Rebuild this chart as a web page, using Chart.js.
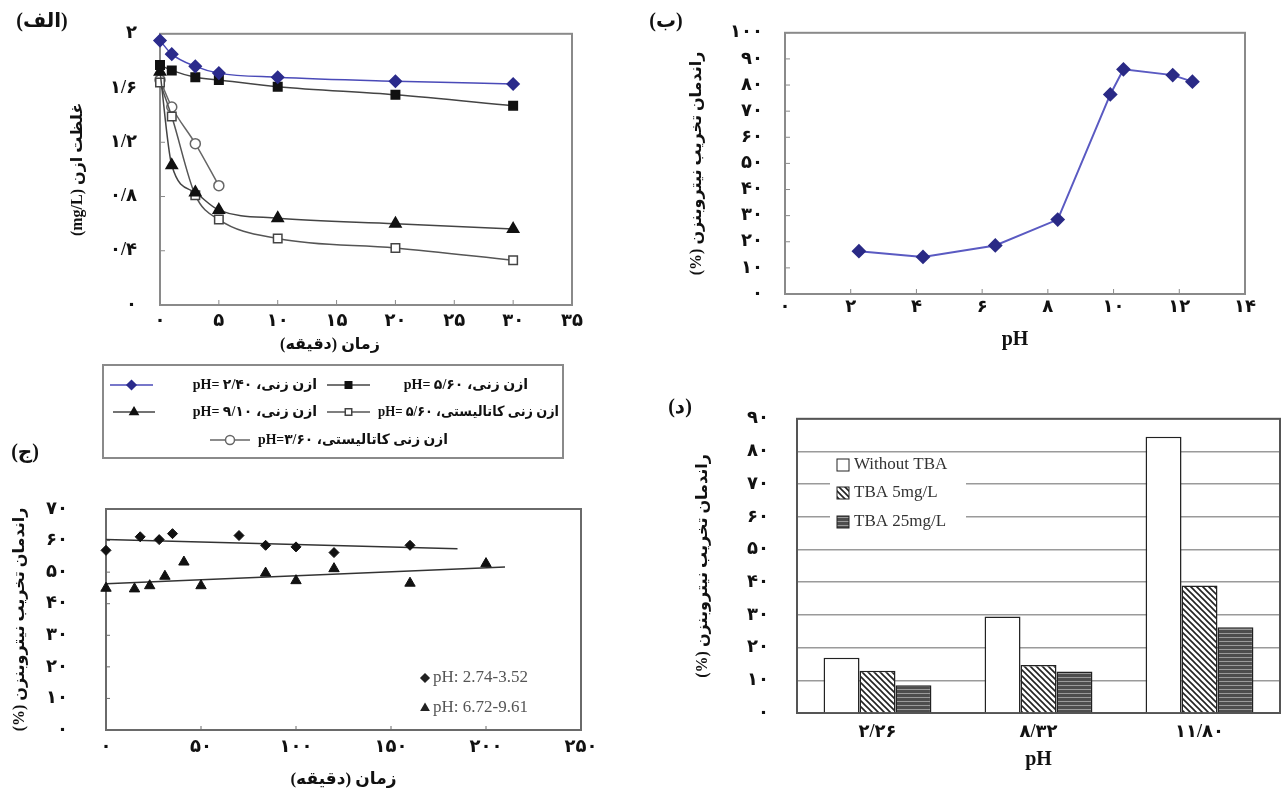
<!DOCTYPE html>
<html>
<head>
<meta charset="utf-8">
<script src="https://cdn.jsdelivr.net/npm/chart.js@4.4.0/dist/chart.umd.min.js"></script>
<style>
  body { margin: 0; background: #fff; width: 1282px; height: 794px; position: relative; overflow: hidden; }
  canvas { position: absolute; }
</style>
</head>
<body>
<canvas id="chartA" dir="rtl" width="610" height="460" style="left:0;top:0"></canvas>
<canvas id="chartB" dir="rtl" width="652" height="360" style="left:630px;top:0"></canvas>
<canvas id="chartC" dir="rtl" width="610" height="354" style="left:0;top:440px"></canvas>
<canvas id="chartD" dir="rtl" width="652" height="414" style="left:630px;top:380px"></canvas>
<script>
// (الف) ozone concentration over time
var timeA = [0, 1, 3, 5, 10, 20, 30];
var ozonePH240 = [1.95, 1.85, 1.76, 1.71, 1.68, 1.65, 1.63];
var ozonePH560 = [1.77, 1.73, 1.68, 1.66, 1.61, 1.55, 1.47];
var ozonePH910 = [1.72, 1.03, 0.83, 0.70, 0.64, 0.60, 0.56];
var catalyticPH560 = [1.64, 1.39, 0.81, 0.63, 0.49, 0.42, 0.33];
var catalyticPH360 = [1.66, 1.46, 1.19, 0.88];

// (ب) removal vs pH
var phB = [2.25, 4.2, 6.4, 8.3, 9.9, 10.3, 11.8, 12.4];
var removalB = [16.4, 14.2, 18.6, 28.5, 76.4, 86, 83.8, 81.3];

// (ج) removal over time, two pH ranges
var timeAcid = [0, 18, 28, 35, 70, 84, 100, 120, 160];
var removalAcid = [56.9, 61.2, 60.3, 62.2, 61.6, 58.5, 58.0, 56.2, 58.5];
var timeBasic = [0, 15, 23, 31, 41, 50, 84, 100, 120, 160, 200];
var removalBasic = [44.9, 44.7, 45.7, 48.7, 53.2, 45.7, 49.7, 47.3, 51.1, 46.5, 52.7];
var trendAcidX = [0, 185];
var trendAcidY = [60.3, 57.4];
var trendBasicX = [0, 210];
var trendBasicY = [46.3, 51.6];

// (د) removal with TBA scavenger
var phD = ['۲/۲۶', '۸/۳۲', '۱۱/۸۰'];
var withoutTBA = [16.9, 29.5, 84.5];
var tba5 = [12.9, 14.7, 39.0];
var tba25 = [8.5, 12.7, 26.2];

var FONT = "'Liberation Serif', 'DejaVu Sans', serif";
var TEXT = '#111';

// western digits -> persian digits, decimal point -> slash
function fa(v) {
  var s = String(Math.round(v * 100) / 100).replace('.', '/');
  return s.replace(/[0-9]/g, function (d) { return '۰۱۲۳۴۵۶۷۸۹'[d]; });
}

function points(xs, ys) {
  return ys.map(function (y, i) { return { x: xs[i], y: y }; });
}

function tickFont(size) {
  return { family: FONT, weight: 'bold', size: size || 18 };
}

function drawMarker(ctx, style, x, y, r, fill, stroke) {
  ctx.save();
  ctx.fillStyle = fill;
  ctx.strokeStyle = stroke;
  ctx.lineWidth = 1.5;
  ctx.beginPath();
  if (style === 'rectRot') {
    ctx.moveTo(x, y - r); ctx.lineTo(x + r, y); ctx.lineTo(x, y + r); ctx.lineTo(x - r, y); ctx.closePath();
  } else if (style === 'rect') {
    ctx.rect(x - r * 0.72, y - r * 0.72, r * 1.44, r * 1.44);
  } else if (style === 'triangle') {
    ctx.moveTo(x, y - r); ctx.lineTo(x + r * 0.9, y + r * 0.55); ctx.lineTo(x - r * 0.9, y + r * 0.55); ctx.closePath();
  } else {
    ctx.arc(x, y, r, 0, Math.PI * 2);
  }
  ctx.fill();
  ctx.stroke();
  ctx.restore();
}

// box round the plot plus little inward ticks
function framePlugin(color, lineWidth, tickLen) {
  return {
    id: 'frame',
    beforeDatasetsDraw: function (chart) {
      var ctx = chart.ctx, a = chart.chartArea;
      ctx.save();
      ctx.strokeStyle = color;
      ctx.lineWidth = lineWidth;
      ctx.strokeRect(a.left, a.top, a.right - a.left, a.bottom - a.top);
      if (tickLen) {
        ctx.lineWidth = 1;
        ctx.beginPath();
        var sx = chart.scales.x, sy = chart.scales.y;
        sx.ticks.forEach(function (t) {
          var px = sx.getPixelForValue(t.value);
          ctx.moveTo(px, a.bottom); ctx.lineTo(px, a.bottom - tickLen);
        });
        sy.ticks.forEach(function (t) {
          var py = sy.getPixelForValue(t.value);
          ctx.moveTo(a.left, py); ctx.lineTo(a.left + tickLen, py);
        });
        ctx.stroke();
      }
      ctx.restore();
    }
  };
}

// free standing labels (panel letters etc)
function textPlugin(items) {
  return {
    id: 'notes',
    afterDraw: function (chart) {
      var ctx = chart.ctx;
      items.forEach(function (it) {
        ctx.save();
        ctx.direction = 'rtl';
        ctx.font = it.font;
        ctx.fillStyle = it.color || TEXT;
        ctx.textAlign = it.align || 'center';
        ctx.textBaseline = 'middle';
        ctx.fillText(it.text, it.x, it.y);
        ctx.restore();
      });
    }
  };
}

// legend box under chart (الف)
var legendA = {
  id: 'legendA',
  afterDraw: function (chart) {
    var ctx = chart.ctx;
    ctx.save();
    ctx.strokeStyle = '#8a8a8a';
    ctx.lineWidth = 2;
    ctx.strokeRect(103, 365, 460, 93);
    var rows = [
      { ds: 0, x1: 110, x2: 153, y: 385, tx: 317, w: 150 },
      { ds: 1, x1: 327, x2: 370, y: 385, tx: 528, w: 150 },
      { ds: 2, x1: 113, x2: 155, y: 412, tx: 317, w: 150 },
      { ds: 3, x1: 327, x2: 370, y: 412, tx: 559, w: 181 },
      { ds: 4, x1: 210, x2: 250, y: 440, tx: 448, w: 190 }
    ];
    rows.forEach(function (r) {
      var d = chart.data.datasets[r.ds];
      ctx.strokeStyle = d.borderColor;
      ctx.lineWidth = 1.5;
      ctx.beginPath();
      ctx.moveTo(r.x1, r.y); ctx.lineTo(r.x2, r.y);
      ctx.stroke();
      drawMarker(ctx, d.pointStyle, (r.x1 + r.x2) / 2, r.y, 4.5, d.pointBackgroundColor, d.pointBorderColor);
      ctx.fillStyle = TEXT;
      ctx.font = 'bold 14px ' + FONT;
      ctx.direction = 'rtl';
      ctx.textAlign = 'right';
      ctx.textBaseline = 'middle';
      ctx.fillText(d.label, r.tx, r.y, r.w);
    });
    ctx.restore();
  }
};

// legend inside plot (ج)
var legendC = {
  id: 'legendC',
  afterDraw: function (chart) {
    var ctx = chart.ctx;
    var rows = [{ ds: 0, y: 238 }, { ds: 1, y: 268 }];
    rows.forEach(function (r) {
      var d = chart.data.datasets[r.ds];
      drawMarker(ctx, d.pointStyle, 425, r.y, 4, '#222', '#222');
      ctx.save();
      ctx.fillStyle = '#555';
      ctx.font = '17px ' + FONT;
      ctx.direction = 'ltr';
      ctx.textAlign = 'left';
      ctx.textBaseline = 'middle';
      ctx.fillText(d.label, 433, r.y);
      ctx.restore();
    });
  }
};

// legend inside plot (د)
var legendD = {
  id: 'legendD',
  afterDatasetsDraw: function (chart) {
    var ctx = chart.ctx;
    ctx.save();
    ctx.fillStyle = '#fff';
    ctx.fillRect(200, 73, 136, 82);
    var rows = [{ ds: 0, y: 85 }, { ds: 1, y: 113 }, { ds: 2, y: 142 }];
    rows.forEach(function (r) {
      var d = chart.data.datasets[r.ds];
      ctx.fillStyle = d.backgroundColor;
      ctx.fillRect(207, r.y - 6, 12, 12);
      ctx.strokeStyle = '#222';
      ctx.lineWidth = 1;
      ctx.strokeRect(207, r.y - 6, 12, 12);
      ctx.fillStyle = '#333';
      ctx.font = '17px ' + FONT;
      ctx.direction = 'ltr';
      ctx.textAlign = 'left';
      ctx.textBaseline = 'middle';
      ctx.fillText(d.label, 224, r.y);
    });
    ctx.restore();
  }
};

function makePattern(kind) {
  var tile = document.createElement('canvas');
  var c = tile.getContext('2d');
  if (kind === 'diag') {
    tile.width = 6; tile.height = 6;
    c.fillStyle = '#fff'; c.fillRect(0, 0, 6, 6);
    c.strokeStyle = '#222'; c.lineWidth = 1.6;
    c.beginPath();
    c.moveTo(-1, -1); c.lineTo(7, 7);
    c.moveTo(-1, 5); c.lineTo(1, 7);
    c.moveTo(5, -1); c.lineTo(7, 1);
    c.stroke();
  } else {
    tile.width = 4; tile.height = 4;
    c.fillStyle = '#4d4d4d'; c.fillRect(0, 0, 4, 4);
    c.fillStyle = '#9a9a9a'; c.fillRect(0, 1, 4, 1);
  }
  return document.createElement('canvas').getContext('2d').createPattern(tile, 'repeat');
}

function lineSeries(label, xs, ys, style, radius, fill, stroke, line) {
  return {
    label: label,
    data: points(xs, ys),
    pointStyle: style,
    pointRadius: radius,
    pointBackgroundColor: fill,
    pointBorderColor: stroke,
    pointBorderWidth: 1.5,
    borderColor: line,
    borderWidth: 1.5,
    cubicInterpolationMode: 'monotone',
    clip: false
  };
}

function linearScale(min, max, step, padding, fit, horizontal) {
  return {
    type: 'linear',
    min: min,
    max: max,
    ticks: { stepSize: step, padding: padding, font: tickFont(), color: TEXT, callback: function (v) { return fa(v); } },
    grid: { display: false, drawTicks: false },
    border: { display: false },
    afterFit: function (s) { if (horizontal) s.height = fit; else s.width = fit; }
  };
}

function axisTitle(text, size, pad, vertical) {
  return {
    display: true,
    text: text,
    color: TEXT,
    font: { family: FONT, weight: 'bold', size: size },
    padding: vertical ? { top: pad, bottom: 0 } : { top: 0, bottom: pad }
  };
}

var baseOptions = function () {
  return {
    responsive: false,
    animation: false,
    plugins: { legend: { display: false }, tooltip: { enabled: false } }
  };
};

// ---------- (الف)
var optA = baseOptions();
optA.layout = { padding: { top: 22, right: 38, bottom: 105, left: 0 } };
optA.scales = {
  x: linearScale(0, 35, 5, 6, 50, true),
  y: linearScale(0, 2, 0.4, 23, 160, false)
};
optA.scales.y.title = axisTitle('غلظت ازن (mg/L)', 16, 68, true);

new Chart(document.getElementById('chartA'), {
  type: 'line',
  data: {
    datasets: [
      lineSeries('ازن زنی، pH= ۲/۴۰', timeA, ozonePH240, 'rectRot', 6, '#2b2b8c', '#2b2b8c', '#4a4ab8'),
      lineSeries('ازن زنی، pH= ۵/۶۰', timeA, ozonePH560, 'rect', 6, '#111', '#111', '#444'),
      lineSeries('ازن زنی، pH= ۹/۱۰', timeA, ozonePH910, 'triangle', 6.5, '#111', '#111', '#444'),
      lineSeries('ازن زنی کاتالیستی، pH= ۵/۶۰', timeA, catalyticPH560, 'rect', 6, '#fff', '#444', '#555'),
      lineSeries('ازن زنی کاتالیستی، pH=۳/۶۰', timeA, catalyticPH360, 'circle', 5, '#fff', '#666', '#666')
    ]
  },
  options: optA,
  plugins: [
    framePlugin('#8a8a8a', 2, 5),
    textPlugin([
      { text: '(الف)', x: 42, y: 22, font: 'bold 20px ' + FONT },
      { text: 'زمان (دقیقه)', x: 330, y: 345, font: 'bold 16px ' + FONT }
    ]),
    legendA
  ]
});

// ---------- (ب)
var optB = baseOptions();
optB.layout = { padding: { top: 32, right: 37, bottom: 0, left: 0 } };
optB.scales = {
  x: linearScale(0, 14, 2, 3, 66, true),
  y: linearScale(0, 100, 10, 22, 155, false)
};
optB.scales.x.title = axisTitle('pH', 20, 8, false);
optB.scales.y.title = axisTitle('راندمان تخریب نیتروبنزن (%)', 16, 57, true);

new Chart(document.getElementById('chartB'), {
  type: 'line',
  data: {
    datasets: [{
      label: 'removal',
      data: points(phB, removalB),
      pointStyle: 'rectRot',
      pointRadius: 6,
      pointBackgroundColor: '#2a2a86',
      pointBorderColor: '#2a2a86',
      borderColor: '#5a5ac2',
      borderWidth: 2,
      clip: false
    }]
  },
  options: optB,
  plugins: [
    framePlugin('#8a8a8a', 2, 5),
    textPlugin([{ text: '(ب)', x: 36, y: 22, font: 'bold 20px ' + FONT }])
  ]
});

// ---------- (ج)
var optC = baseOptions();
optC.layout = { padding: { top: 69, right: 29, bottom: 0, left: 0 } };
optC.scales = {
  x: linearScale(0, 250, 50, 7, 64, true),
  y: linearScale(0, 70, 10, 38, 106, false)
};
optC.scales.x.title = axisTitle('زمان (دقیقه)', 17, 4, false);
optC.scales.y.title = axisTitle('راندمان تخریب نیتروبنزن (%)', 16, 10, true);

new Chart(document.getElementById('chartC'), {
  type: 'scatter',
  data: {
    datasets: [
      { label: 'pH: 2.74-3.52', data: points(timeAcid, removalAcid), pointStyle: 'rectRot', pointRadius: 5,
        pointBackgroundColor: '#111', pointBorderColor: '#111', clip: false },
      { label: 'pH: 6.72-9.61', data: points(timeBasic, removalBasic), pointStyle: 'triangle', pointRadius: 6,
        pointBackgroundColor: '#111', pointBorderColor: '#111', clip: false },
      { label: 'trend acid', data: points(trendAcidX, trendAcidY), showLine: true, pointRadius: 0,
        borderColor: '#333', borderWidth: 1.5 },
      { label: 'trend basic', data: points(trendBasicX, trendBasicY), showLine: true, pointRadius: 0,
        borderColor: '#333', borderWidth: 1.5 }
    ]
  },
  options: optC,
  plugins: [
    framePlugin('#6a6a6a', 2, 4),
    textPlugin([{ text: '(ج)', x: 25, y: 13, font: 'bold 20px ' + FONT }]),
    legendC
  ]
});

// ---------- (د)
var optD = baseOptions();
optD.layout = { padding: { top: 32, right: 2, bottom: 0, left: 0 } };
optD.scales = {
  x: {
    type: 'category',
    ticks: { padding: 9, font: tickFont(), color: TEXT },
    grid: { display: false, drawTicks: false },
    border: { display: false },
    title: axisTitle('pH', 20, 22, false),
    afterFit: function (s) { s.height = 81; }
  },
  y: linearScale(0, 90, 10, 28, 167, false)
};
optD.scales.y.grid = { display: true, drawTicks: false, color: '#9a9a9a', lineWidth: 1.5 };
optD.scales.y.title = axisTitle('راندمان تخریب نیتروبنزن (%)', 16, 63, true);

new Chart(document.getElementById('chartD'), {
  type: 'bar',
  data: {
    labels: phD,
    datasets: [
      { label: 'Without TBA', data: withoutTBA, backgroundColor: '#fff', borderColor: '#222', borderWidth: 1.5 },
      { label: 'TBA 5mg/L', data: tba5, backgroundColor: makePattern('diag'), borderColor: '#222', borderWidth: 1.5 },
      { label: 'TBA 25mg/L', data: tba25, backgroundColor: makePattern('hstripe'), borderColor: '#222', borderWidth: 1.5 }
    ]
  },
  options: Object.assign(optD, {
    datasets: { bar: { categoryPercentage: 0.67, barPercentage: 1 } }
  }),
  plugins: [
    framePlugin('#555', 2, 0),
    textPlugin([{ text: '(د)', x: 50, y: 28, font: 'bold 20px ' + FONT }]),
    legendD
  ]
});
</script>
</body>
</html>
